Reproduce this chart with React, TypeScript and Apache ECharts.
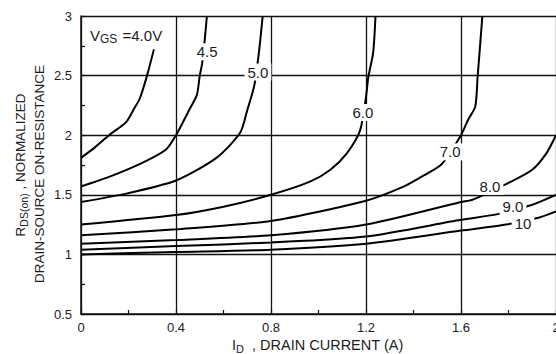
import React, { useEffect, useRef } from "react";
import * as echarts from "echarts";

// Tick labels
const xTicks = ["0", "0.4", "0.8", "1.2", "1.6", "2"];
const yTicks = ["0.5", "1", "1.5", "2", "2.5", "3"];

// Curves: [I_D (A), normalized R_DS(on)]
const vgs40 = [[0, 1.81], [0.06, 1.9], [0.118, 2.0], [0.19, 2.11], [0.22, 2.21], [0.248, 2.31], [0.278, 2.5], [0.307, 2.72]];
const vgs45 = [[0, 1.57], [0.118, 1.65], [0.26, 1.77], [0.358, 1.88], [0.4, 2.0], [0.455, 2.21], [0.488, 2.34], [0.5, 2.5], [0.51, 2.6], [0.522, 2.82], [0.53, 3.0]];
const vgs50 = [[0, 1.44], [0.19, 1.51], [0.4, 1.62], [0.57, 1.81], [0.67, 2.02], [0.7, 2.21], [0.73, 2.42], [0.75, 2.71], [0.765, 3.0]];
const vgs60 = [[0, 1.25], [0.4, 1.33], [0.6, 1.4], [0.8, 1.5], [0.964, 1.61], [1.05, 1.71], [1.12, 1.85], [1.175, 2.04], [1.2, 2.32], [1.21, 2.49], [1.23, 2.69], [1.24, 3.0]];
const vgs70 = [[0, 1.16], [0.4, 1.21], [0.8, 1.28], [1.2, 1.45], [1.36, 1.57], [1.45, 1.67], [1.52, 1.76], [1.6, 2.0], [1.63, 2.13], [1.66, 2.24], [1.67, 2.49], [1.69, 3.0]];
const vgs80 = [[0, 1.09], [0.4, 1.12], [0.8, 1.16], [1.2, 1.25], [1.6, 1.44], [1.65, 1.46], [1.8, 1.6], [1.9, 1.71], [1.96, 1.85], [2.0, 2.0]];
const vgs90 = [[0, 1.04], [0.4, 1.07], [0.8, 1.1], [1.2, 1.15], [1.6, 1.29], [1.76, 1.34], [1.89, 1.41], [2.0, 1.5]];
const vgs100 = [[0, 1.0], [0.4, 1.02], [0.8, 1.04], [1.2, 1.09], [1.6, 1.2], [1.79, 1.25], [1.93, 1.31], [2.0, 1.36]];

// Curve labels and their anchor points (data units)
const curveLabels = ["4.5", "5.0", "6.0", "7.0", "8.0", "9.0", "10"];
const curveLabelPos = [[0.531, 2.7], [0.745, 2.53], [1.187, 2.19], [1.554, 1.86], [1.722, 1.57], [1.819, 1.4], [1.861, 1.26]];
const vgsTitlePos = [0.038, 2.84];

const FONT = "Liberation Sans, Arial, sans-serif";
const INK = "#1c1c24";

export default function App() {
  const ref = useRef<HTMLDivElement>(null);
  useEffect(() => {
    if (!ref.current) return;
    const chart = echarts.init(ref.current, null, { renderer: "svg" });
    const curves = [vgs40, vgs45, vgs50, vgs60, vgs70, vgs80, vgs90, vgs100];
    const lineSeries = curves.map((d) => ({
      type: "line",
      data: d,
      showSymbol: false,
      smooth: 0.25,
      silent: true,
      z: 3,
      lineStyle: { color: "#000", width: 2 },
    }));
    const fmt = (ticks: string[]) => (v: number) => {
      const t = ticks.find((s) => Math.abs(parseFloat(s) - v) < 1e-6);
      return t === undefined ? "" : t;
    };
    const option: any = {
      animation: false,
      backgroundColor: "#fff",
      textStyle: { fontFamily: FONT },
      grid: { left: 81, top: 16, right: 0, bottom: 40, containLabel: false, outerBoundsMode: "none" },
      xAxis: {
        type: "value",
        min: 0,
        max: 2,
        interval: 0.4,
        axisLine: { show: true, lineStyle: { color: "#111", width: 1.5 } },
        axisTick: { show: true, inside: true, length: 4, lineStyle: { color: "#111", width: 1.2 } },
        minorTick: { show: true, splitNumber: 2, length: 4, lineStyle: { color: "#111", width: 1.2 } },
        splitLine: { show: true, lineStyle: { color: "#111", width: 1.3 } },
        axisLabel: { formatter: fmt(xTicks), color: INK, fontSize: 13, margin: 7, fontFamily: FONT, hideOverlap: false },
      },
      yAxis: {
        type: "value",
        min: 0.5,
        max: 3,
        interval: 0.5,
        axisLine: { show: true, lineStyle: { color: "#111", width: 1.5 } },
        axisTick: { show: true, inside: true, length: 4, lineStyle: { color: "#111", width: 1.2 } },
        minorTick: { show: true, splitNumber: 2, length: 4, lineStyle: { color: "#111", width: 1.2 } },
        splitLine: { show: true, lineStyle: { color: "#111", width: 1.3 } },
        axisLabel: { formatter: fmt(yTicks), color: INK, fontSize: 13, margin: 9, fontFamily: FONT },
      },
      series: lineSeries,
    };
    chart.setOption(option);

    const toPx = (p: number[]) => chart.convertToPixel({ gridIndex: 0 }, p) as number[];
    const labelGraphics = curveLabels.map((t, i) => {
      const [px, py] = toPx(curveLabelPos[i]);
      return {
        type: "text",
        x: px,
        y: py,
        z: 100,
        style: {
          text: t,
          align: "center",
          verticalAlign: "middle",
          fontSize: 15,
          fontFamily: FONT,
          fill: INK,
          backgroundColor: "#fff",
          padding: [1, 3, 1, 3],
        },
      };
    });
    const [vx, vy] = toPx(vgsTitlePos);
    chart.setOption({
      graphic: [
        ...labelGraphics,
        {
          type: "text",
          x: vx,
          y: vy,
          z: 100,
          style: {
            text: "{m|V}{s|GS}{m| =4.0V}",
            align: "left",
            verticalAlign: "middle",
            rich: {
              m: { fontSize: 15, fill: INK, fontFamily: FONT },
              s: { fontSize: 12, fill: INK, fontFamily: FONT, padding: [7, 1, 0, 0] },
            },
          },
        },
        {
          type: "text",
          x: 232,
          y: 345,
          style: {
            text: "{m|I}{s|D}{m|  , DRAIN CURRENT (A)}",
            align: "left",
            verticalAlign: "middle",
            rich: {
              m: { fontSize: 14.5, fill: INK, fontFamily: FONT },
              s: { fontSize: 11, fill: INK, fontFamily: FONT, padding: [7, 0, 0, 0] },
            },
          },
        },
        {
          type: "text",
          x: 20,
          y: 165,
          rotation: Math.PI / 2,
          style: {
            text: "{m|R}{s|DS(on)}{m| , NORMALIZED}",
            align: "center",
            verticalAlign: "middle",
            rich: {
              m: { fontSize: 13.5, fill: INK, fontFamily: FONT },
              s: { fontSize: 10.5, fill: INK, fontFamily: FONT, padding: [7, 0, 0, 0] },
            },
          },
        },
        {
          type: "text",
          x: 39,
          y: 174,
          rotation: Math.PI / 2,
          style: {
            text: "DRAIN-SOURCE ON-RESISTANCE",
            align: "center",
            verticalAlign: "middle",
            fontSize: 13.5,
            fill: INK,
            fontFamily: FONT,
          },
        },
      ],
    });
    return () => chart.dispose();
  }, []);
  return (
    <div
      ref={ref}
      style={{ position: "fixed", left: 0, top: 0, width: 556, height: 354, background: "#fff" }}
    />
  );
}
